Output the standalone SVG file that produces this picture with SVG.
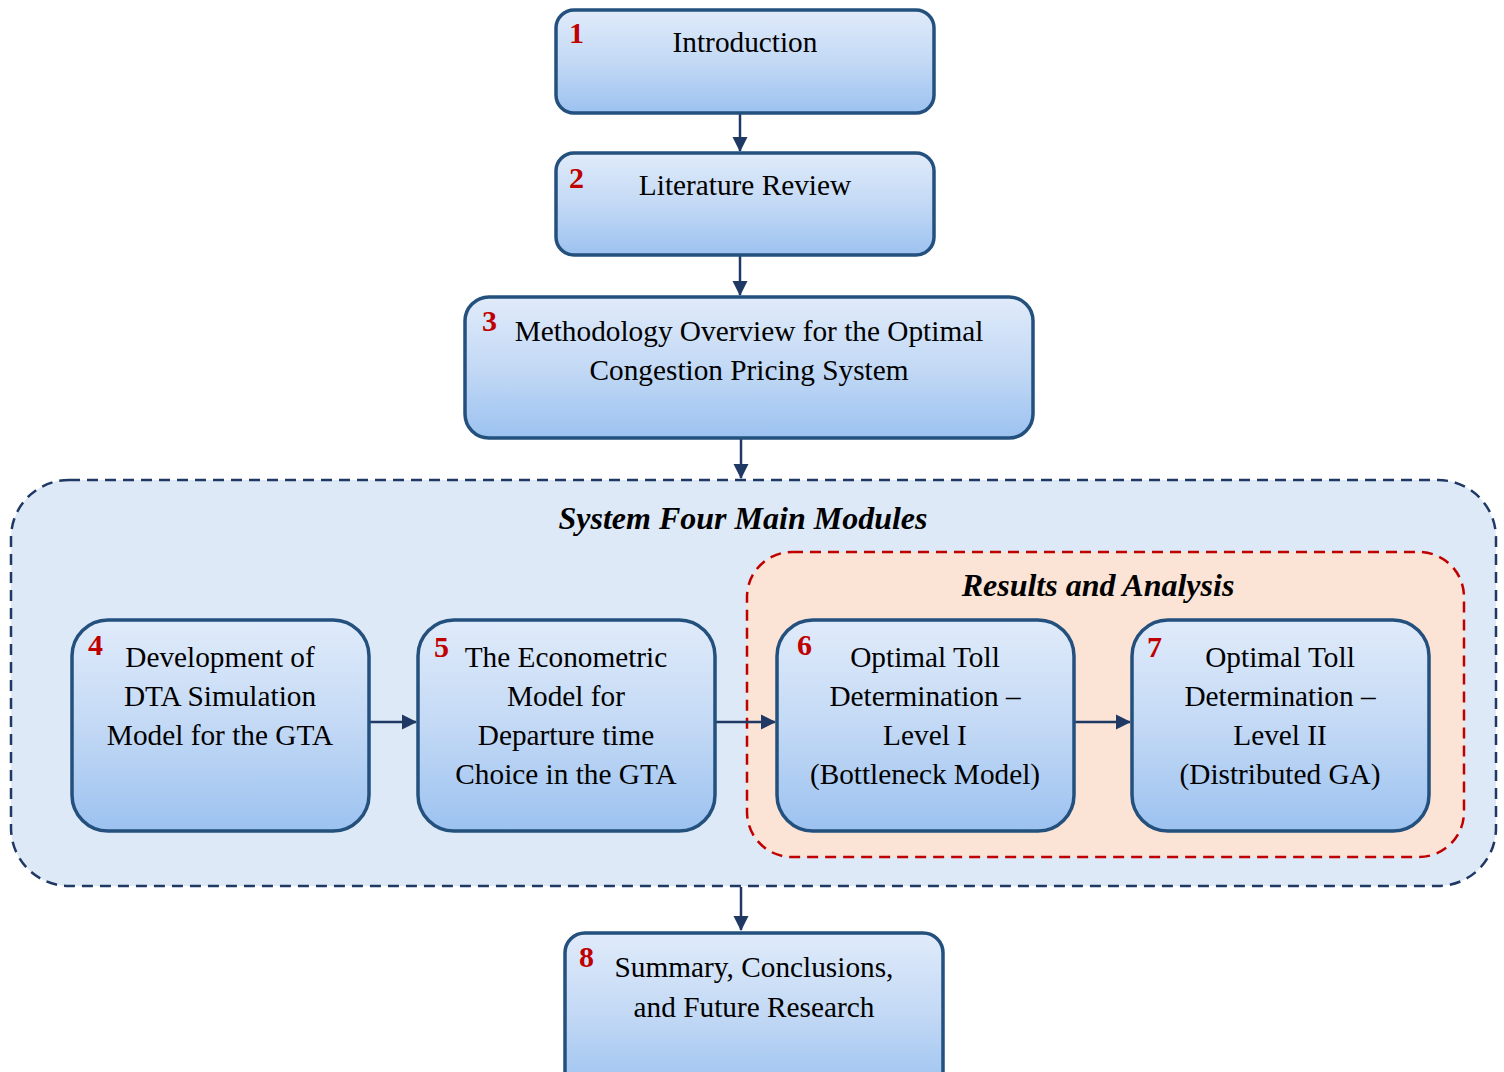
<svg xmlns="http://www.w3.org/2000/svg" width="1504" height="1072" viewBox="0 0 1504 1072">
  <style>
    .box { fill: url(#boxFill); stroke: #23507d; stroke-width: 3.5; }
    .lbl { font-family: "Liberation Serif", "Times New Roman", serif; font-size: 29.3px; fill: #000; text-anchor: middle; }
    .num { font-family: "Liberation Serif", "Times New Roman", serif; font-size: 30px; font-weight: bold; fill: #c00000; }
    .ttl { font-family: "Liberation Serif", "Times New Roman", serif; font-size: 32px; font-weight: bold; font-style: italic; fill: #000; text-anchor: middle; }
    .link { stroke: #1f3864; stroke-width: 2.5; fill: none; marker-end: url(#arrow); }
  </style>
  <defs>
    <linearGradient id="boxFill" x1="0" y1="0" x2="0" y2="1">
      <stop offset="0" stop-color="#e0ebfa"/>
      <stop offset="0.5" stop-color="#c3d9f5"/>
      <stop offset="1" stop-color="#9cc2f0"/>
    </linearGradient>
    <marker id="arrow" markerWidth="16" markerHeight="16" refX="14" refY="8" orient="auto" markerUnits="userSpaceOnUse">
      <path d="M0,0.5 L15,8 L0,15.5 Z" fill="#1f3864"/>
    </marker>
  </defs>

  <!-- container: four main modules -->
  <g id="modules">
    <rect x="11" y="480" width="1485" height="406" rx="58" fill="#dde9f6" stroke="#1f3864" stroke-width="2.5" stroke-dasharray="11,7"/>
    <text class="ttl" x="743" y="529">System Four Main Modules</text>
  </g>

  <!-- container: results and analysis -->
  <g id="results">
    <rect x="747" y="552" width="717" height="305" rx="45" fill="#fbe3d5" stroke="#c00000" stroke-width="2.5" stroke-dasharray="11,7"/>
    <text class="ttl" x="1098" y="596">Results and Analysis</text>
  </g>

  <g id="connectors">
    <line class="link" x1="740" y1="114" x2="740" y2="151"/>
    <line class="link" x1="740" y1="256" x2="740" y2="295"/>
    <line class="link" x1="741" y1="439" x2="741" y2="478"/>
    <line class="link" x1="741" y1="887" x2="741" y2="930"/>
    <line class="link" x1="370" y1="722" x2="416" y2="722"/>
    <line class="link" x1="716" y1="722" x2="775" y2="722"/>
    <line class="link" x1="1075" y1="722" x2="1130" y2="722"/>
  </g>

  <g id="n1">
    <rect class="box" x="556" y="10" width="378" height="103" rx="18"/>
    <text class="num" x="569" y="43">1</text>
    <text class="lbl" x="745" y="52">Introduction</text>
  </g>

  <g id="n2">
    <rect class="box" x="556" y="153" width="378" height="102" rx="18"/>
    <text class="num" x="569" y="188">2</text>
    <text class="lbl" x="745" y="195">Literature Review</text>
  </g>

  <g id="n3">
    <rect class="box" x="465" y="297" width="568" height="141" rx="24"/>
    <text class="num" x="482" y="331">3</text>
    <text class="lbl" x="749" y="341">Methodology Overview for the Optimal</text>
    <text class="lbl" x="749" y="380">Congestion Pricing System</text>
  </g>

  <g id="n4">
    <rect class="box" x="72" y="620" width="297" height="211" rx="36"/>
    <text class="num" x="88" y="655">4</text>
    <text class="lbl" x="220" y="667">Development of</text>
    <text class="lbl" x="220" y="706">DTA Simulation</text>
    <text class="lbl" x="220" y="745">Model for the GTA</text>
  </g>

  <g id="n5">
    <rect class="box" x="418" y="620" width="297" height="211" rx="36"/>
    <text class="num" x="434" y="657">5</text>
    <text class="lbl" x="566" y="667">The Econometric</text>
    <text class="lbl" x="566" y="706">Model for</text>
    <text class="lbl" x="566" y="745">Departure time</text>
    <text class="lbl" x="566" y="784">Choice in the GTA</text>
  </g>

  <g id="n6">
    <rect class="box" x="777" y="620" width="297" height="211" rx="36"/>
    <text class="num" x="797" y="655">6</text>
    <text class="lbl" x="925" y="667">Optimal Toll</text>
    <text class="lbl" x="925" y="706">Determination –</text>
    <text class="lbl" x="925" y="745">Level I</text>
    <text class="lbl" x="925" y="784">(Bottleneck Model)</text>
  </g>

  <g id="n7">
    <rect class="box" x="1132" y="620" width="297" height="211" rx="36"/>
    <text class="num" x="1147" y="657">7</text>
    <text class="lbl" x="1280" y="667">Optimal Toll</text>
    <text class="lbl" x="1280" y="706">Determination –</text>
    <text class="lbl" x="1280" y="745">Level II</text>
    <text class="lbl" x="1280" y="784">(Distributed GA)</text>
  </g>

  <g id="n8">
    <rect class="box" x="565" y="933" width="378" height="160" rx="20"/>
    <text class="num" x="579" y="967">8</text>
    <text class="lbl" x="754" y="977">Summary, Conclusions,</text>
    <text class="lbl" x="754" y="1017">and Future Research</text>
  </g>
</svg>
